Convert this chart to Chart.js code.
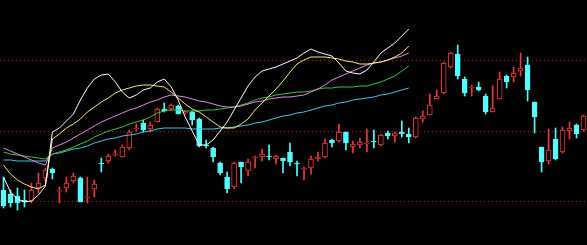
<!DOCTYPE html>
<html>
<head>
<meta charset="utf-8">
<script src="https://cdn.jsdelivr.net/npm/chart.js@4.4.0/dist/chart.umd.min.js"></script>
<style>
  html, body { margin: 0; padding: 0; background: #000; overflow: hidden; }
  canvas { display: block; }
</style>
</head>
<body>
<canvas id="kline" width="587" height="245"></canvas>
<script>
// daily candles (price units)
const opens = [4.11, 4.07, 4.05, 4.01, 4.00, 4.13, 4.23, 4.32, 4.10, 4.13,
  4.20, 4.23, 4.03, 4.12, 4.38, 4.40, 4.46, 4.44, 4.53, 4.72,
  4.78, 4.72, 4.79, 4.92, 4.92, 4.95, 4.88, 4.89, 4.82, 4.56,
  4.53, 4.38, 4.24, 4.14, 4.39, 4.30, 4.43, 4.44, 4.45, 4.42,
  4.43, 4.49, 4.38, 4.32, 4.33, 4.42, 4.44, 4.61, 4.60, 4.69,
  4.54, 4.56, 4.57, 4.60, 4.56, 4.68, 4.65, 4.69, 4.67, 4.64,
  4.82, 4.86, 5.02, 5.08, 5.34, 5.47, 5.22, 5.13, 5.14, 5.05,
  4.89, 5.02, 5.25, 5.24, 5.30, 5.36, 4.99, 4.54, 4.40, 4.62,
  4.49, 4.70, 4.76, 4.71];
const closes = [3.95, 3.98, 3.98, 3.99, 4.11, 4.18, 4.31, 4.28, 4.11, 4.18,
  4.25, 3.99, 4.04, 4.17, 4.37, 4.45, 4.47, 4.54, 4.69, 4.73,
  4.71, 4.76, 4.92, 4.90, 4.96, 4.87, 4.89, 4.81, 4.55, 4.55,
  4.44, 4.28, 4.12, 4.38, 4.34, 4.39, 4.44, 4.47, 4.44, 4.45,
  4.40, 4.39, 4.37, 4.33, 4.42, 4.44, 4.58, 4.58, 4.69, 4.58,
  4.57, 4.59, 4.58, 4.59, 4.66, 4.65, 4.68, 4.67, 4.64, 4.83,
  4.85, 4.96, 5.05, 5.38, 5.48, 5.25, 5.08, 5.14, 5.11, 4.89,
  4.93, 5.22, 5.19, 5.28, 5.33, 5.11, 4.84, 4.39, 4.51, 4.42,
  4.71, 4.73, 4.67, 4.85];
const highs = [4.24, 4.11, 4.13, 4.11, 4.18, 4.28, 4.33, 4.33, 4.14, 4.24,
  4.28, 4.24, 4.24, 4.21, 4.43, 4.47, 4.51, 4.56, 4.71, 4.77,
  4.81, 4.79, 4.93, 4.98, 4.97, 4.96, 4.90, 4.90, 4.83, 4.61,
  4.54, 4.39, 4.29, 4.39, 4.39, 4.42, 4.45, 4.52, 4.56, 4.46,
  4.43, 4.58, 4.40, 4.34, 4.45, 4.49, 4.62, 4.62, 4.77, 4.69,
  4.60, 4.63, 4.72, 4.71, 4.67, 4.70, 4.69, 4.80, 4.73, 4.84,
  4.90, 5.07, 5.11, 5.39, 5.49, 5.56, 5.24, 5.16, 5.19, 5.07,
  5.15, 5.29, 5.26, 5.34, 5.48, 5.44, 4.99, 4.54, 4.72, 4.73,
  4.74, 4.79, 4.77, 4.86];
const lows = [3.93, 3.94, 3.91, 3.94, 3.98, 4.08, 4.20, 4.22, 3.98, 4.09,
  4.18, 3.99, 3.98, 4.04, 4.29, 4.38, 4.45, 4.44, 4.51, 4.70,
  4.69, 4.69, 4.79, 4.89, 4.91, 4.87, 4.87, 4.76, 4.54, 4.53,
  4.39, 4.26, 4.08, 4.12, 4.18, 4.25, 4.33, 4.40, 4.41, 4.37,
  4.28, 4.35, 4.25, 4.21, 4.27, 4.40, 4.43, 4.54, 4.59, 4.51,
  4.48, 4.53, 4.49, 4.53, 4.55, 4.62, 4.59, 4.64, 4.58, 4.63,
  4.79, 4.86, 5.02, 5.07, 5.33, 5.22, 5.05, 5.05, 5.10, 4.87,
  4.89, 5.02, 5.13, 5.19, 5.25, 5.00, 4.68, 4.29, 4.37, 4.41,
  4.48, 4.62, 4.63, 4.70];

// moving average lines (they stop part way)
const maWhite = [4.24, 4.09, 4.02, 3.99, 4.00, 4.06, 4.15, 4.69, 4.73, 4.80,
  4.87, 5.01, 5.13, 5.22, 5.26, 5.27, 5.19, 5.09, 5.03, 5.06,
  5.11, 5.13, 5.19, 5.22, 5.14, 5.01, 4.84, 4.70, 4.56, 4.56,
  4.61, 4.70, 4.79, 4.91, 5.03, 5.15, 5.24, 5.30, 5.32, 5.34,
  5.37, 5.40, 5.43, 5.48, 5.52, 5.49, 5.47, 5.45, 5.38, 5.30,
  5.28, 5.27, 5.31, 5.39, 5.48, 5.53, 5.58, 5.65, 5.72];
const maYellow = [4.36, 4.27, 4.21, 4.17, 4.14, 4.12, 4.16, 4.62, 4.67, 4.73,
  4.77, 4.82, 4.89, 4.94, 4.99, 5.03, 5.08, 5.11, 5.13, 5.15,
  5.16, 5.16, 5.15, 5.14, 5.09, 5.03, 4.97, 4.92, 4.89, 4.84,
  4.79, 4.74, 4.73, 4.73, 4.77, 4.82, 4.91, 4.98, 5.05, 5.12,
  5.20, 5.29, 5.37, 5.41, 5.44, 5.44, 5.44, 5.43, 5.42, 5.40,
  5.39, 5.37, 5.37, 5.38, 5.39, 5.41, 5.44, 5.48, 5.55];
const maPink = [4.53, 4.50, 4.47, 4.44, 4.41, 4.38, 4.36, 4.53, 4.56, 4.59,
  4.63, 4.67, 4.71, 4.75, 4.79, 4.82, 4.85, 4.88, 4.91, 4.93,
  4.96, 4.99, 5.01, 5.04, 5.06, 5.05, 5.04, 5.02, 5.00, 4.99,
  4.97, 4.95, 4.94, 4.94, 4.95, 4.97, 4.99, 5.00, 5.02, 5.03,
  5.04, 5.04, 5.05, 5.06, 5.09, 5.12, 5.16, 5.21, 5.24, 5.27,
  5.30, 5.33, 5.36, 5.38, 5.39, 5.41, 5.43, 5.45, 5.48];
const maGreen = [4.49, 4.47, 4.46, 4.45, 4.44, 4.43, 4.42, 4.47, 4.49, 4.51,
  4.54, 4.57, 4.60, 4.64, 4.67, 4.70, 4.72, 4.74, 4.77, 4.79,
  4.81, 4.84, 4.88, 4.90, 4.91, 4.91, 4.90, 4.90, 4.90, 4.91,
  4.91, 4.92, 4.93, 4.94, 4.96, 4.98, 5.01, 5.03, 5.04, 5.06,
  5.07, 5.08, 5.09, 5.09, 5.10, 5.12, 5.13, 5.13, 5.14, 5.14,
  5.14, 5.15, 5.15, 5.17, 5.19, 5.22, 5.25, 5.30, 5.35];
const maCyan = [4.41, 4.41, 4.40, 4.40, 4.40, 4.40, 4.40, 4.47, 4.48, 4.50,
  4.52, 4.53, 4.55, 4.58, 4.60, 4.62, 4.63, 4.65, 4.66, 4.67,
  4.69, 4.70, 4.72, 4.73, 4.73, 4.73, 4.73, 4.72, 4.72, 4.72,
  4.72, 4.73, 4.73, 4.74, 4.75, 4.76, 4.78, 4.79, 4.81, 4.83,
  4.85, 4.86, 4.88, 4.89, 4.91, 4.93, 4.95, 4.96, 4.98, 4.99,
  5.01, 5.02, 5.03, 5.04, 5.06, 5.07, 5.09, 5.11, 5.13];

// dotted horizontal levels
const gridLevels = [4.0, 4.7, 5.4];

const labels = opens.map((_, i) => i + 1);
const upColor = '#f03838';
const downColor = '#54fcfc';
const isUp = opens.map((o, i) => closes[i] >= o);

function maLine(data, color) {
  return {
    type: 'line',
    data: data,
    borderColor: color,
    borderWidth: 1,
    pointRadius: 0,
    tension: 0,
    fill: false,
    order: 0
  };
}

new Chart(document.getElementById('kline'), {
  type: 'bar',
  data: {
    labels: labels,
    datasets: [
      maLine(maWhite, '#ffffff'),
      maLine(maYellow, '#f4f070'),
      maLine(maPink, '#e888e8'),
      maLine(maGreen, '#3cc83c'),
      maLine(maCyan, '#48c4e0'),
      {
        data: opens.map((o, i) => [o, closes[i]]),
        backgroundColor: isUp.map(u => u ? '#000000' : downColor),
        borderColor: isUp.map(u => u ? upColor : downColor),
        borderWidth: 1,
        borderSkipped: false,
        barThickness: 5,
        grouped: false,
        order: 1
      },
      {
        data: lows.map((l, i) => [l, highs[i]]),
        backgroundColor: isUp.map(u => u ? upColor : downColor),
        borderWidth: 0,
        barThickness: 1,
        grouped: false,
        order: 2
      }
    ]
  },
  options: {
    responsive: false,
    animation: false,
    devicePixelRatio: 1,
    layout: { padding: 0 },
    plugins: { legend: { display: false }, tooltip: { enabled: false } },
    scales: {
      x: { display: false },
      y: {
        min: 3.56,
        max: 6.01,
        ticks: { display: false },
        border: { display: false, dash: [1, 3] },
        grid: { color: '#9a1c1c', drawTicks: false, lineWidth: 1 },
        afterBuildTicks: (scale) => { scale.ticks = gridLevels.map(v => ({ value: v })); },
        afterFit: (scale) => { scale.width = 0; }
      }
    }
  }
});
</script>
</body>
</html>
